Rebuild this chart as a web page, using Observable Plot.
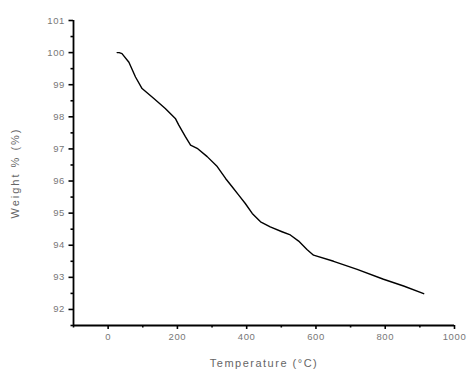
<!DOCTYPE html>
<html>
<head>
<meta charset="utf-8">
<script src="https://cdn.jsdelivr.net/npm/d3@7"></script>
<script src="https://cdn.jsdelivr.net/npm/@observablehq/plot@0.6"></script>
<style>
  html, body { margin: 0; padding: 0; background: #fff; }
  #chart svg { display: block; }
</style>
</head>
<body>
<div id="chart"></div>
<script>
const temperature = [26, 32, 40, 60, 79, 98, 132, 165, 194, 204, 223, 238, 257, 286, 315, 339, 358, 377, 396, 416, 440, 468, 502, 526, 550, 574, 593, 651, 719, 795, 853, 911];
const weight = [100.0, 100.0, 99.97, 99.7, 99.24, 98.88, 98.57, 98.26, 97.95, 97.74, 97.38, 97.12, 97.02, 96.76, 96.45, 96.08, 95.82, 95.56, 95.30, 94.99, 94.73, 94.57, 94.42, 94.32, 94.13, 93.87, 93.69, 93.5, 93.25, 92.94, 92.73, 92.49];
const xMajorTicks = [0, 200, 400, 600, 800, 1000];
const xMinorTicks = [-100, 100, 300, 500, 700, 900];
const yMajorTicks = [92, 93, 94, 95, 96, 97, 98, 99, 100, 101];
const yMinorTicks = [91.5, 92.5, 93.5, 94.5, 95.5, 96.5, 97.5, 98.5, 99.5, 100.5];
const xTitle = "Temperature (°C)";
const yTitle = "Weight % (%)";

const data = temperature.map((t, i) => ({t, w: weight[i]}));

const chart = Plot.plot({
  width: 468,
  height: 373,
  marginLeft: 73,
  marginRight: 14,
  marginTop: 20,
  marginBottom: 48,
  style: {fontFamily: "Liberation Sans, Arial, sans-serif", fontSize: "9.5px", background: "#fff"},
  x: {domain: [-100, 1000]},
  y: {domain: [91.5, 101]},
  marks: [
    Plot.axisX({ticks: xMajorTicks, tickSize: 4, tickPadding: 4, tickFormat: d => String(d), fontSize: 9.5, color: "#777", stroke: "#000", strokeWidth: 1.6, label: null}),
    Plot.axisX({ticks: xMinorTicks, tickSize: 2.5, text: null, strokeWidth: 1.6, label: null}),
    Plot.axisY({ticks: yMajorTicks, tickSize: 4.5, tickPadding: 4, tickFormat: d => String(d), fontSize: 9.5, color: "#777", stroke: "#000", strokeWidth: 1.6, label: null}),
    Plot.axisY({ticks: yMinorTicks, tickSize: 2.5, text: null, strokeWidth: 1.6, label: null}),
    Plot.ruleY([91.5], {stroke: "#000", strokeWidth: 1.8}),
    Plot.ruleX([-100], {stroke: "#000", strokeWidth: 1.8}),
    Plot.line(data, {x: "t", y: "w", stroke: "#000", strokeWidth: 1.4}),
    Plot.text([xTitle], {frameAnchor: "bottom", dy: 41, fontSize: 11, fill: "#666", text: d => d}),
    Plot.text([yTitle], {frameAnchor: "left", dx: -58, rotate: -90, textAnchor: "middle", fontSize: 11, fill: "#666", text: d => d})
  ]
});
d3.select(chart).selectAll("text").each(function () {
  const s = this.textContent;
  if (s === xTitle) this.setAttribute("letter-spacing", "1.5px");
  else if (s === yTitle) this.setAttribute("letter-spacing", "2px");
  else this.setAttribute("letter-spacing", "0.6px");
});
document.getElementById("chart").appendChild(chart);
</script>
</body>
</html>
